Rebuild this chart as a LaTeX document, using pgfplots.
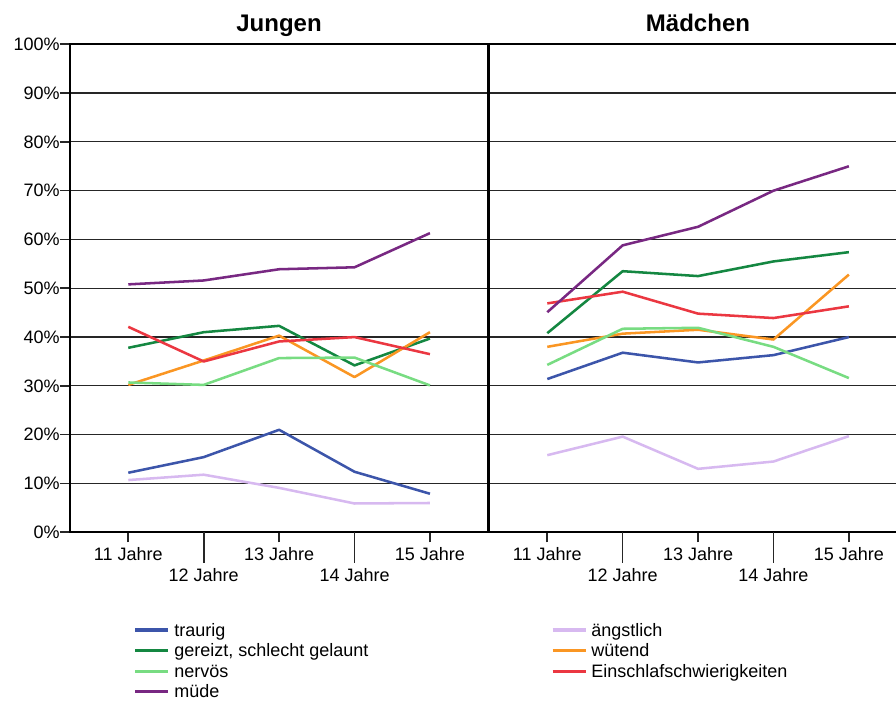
\documentclass[border=0pt]{standalone}
\usepackage{fontspec}
\setmainfont{Liberation Sans}
\usepackage{pgfplots}
\usepackage{pgfplotstable}
\pgfplotsset{compat=1.18}

\definecolor{cTraurig}{RGB}{60,85,170}
\definecolor{cAngst}{RGB}{215,185,240}
\definecolor{cGereizt}{RGB}{20,135,65}
\definecolor{cWuetend}{RGB}{250,150,35}
\definecolor{cNervoes}{RGB}{120,220,130}
\definecolor{cSchlaf}{RGB}{235,55,65}
\definecolor{cMuede}{RGB}{120,40,130}

% Jungen
\pgfplotstableread{
age traurig angst gereizt wuetend nervoes schlaf muede
11  12.2    10.7  37.8    30.2    30.7    42.1   50.8
12  15.4    11.8  41.0    35.2    30.2    35.0   51.6
13  21.0     9.1  42.3    40.3    35.7    39.1   53.9
14  12.4     5.9  34.2    31.8    35.8    40.0   54.3
15   7.9     6.0  39.7    41.0    30.1    36.5   61.3
}\jungen

% Maedchen
\pgfplotstableread{
age traurig angst gereizt wuetend nervoes schlaf muede
11  31.4    15.8  40.8    38.0    34.3    46.9   45.1
12  36.8    19.6  53.5    40.7    41.7    49.3   58.8
13  34.8    13.0  52.5    41.5    41.9    44.8   62.6
14  36.3    14.5  55.5    39.5    38.0    43.9   70.0
15  40.0    19.7  57.4    52.8    31.6    46.3   75.0
}\maedchen

\newcommand{\lcol}[1]{\makebox[282pt][l]{#1}}

\pgfplotsset{
  panel/.style={
    scale only axis, height=366pt,
    ymin=0, ymax=100, xmin=10.227,
    ytick={0,10,...,100},
    ymajorgrids, grid style={black!85, line width=0.9pt},
    xtick={11,13,15}, xticklabels={11 Jahre,13 Jahre,15 Jahre},
    extra x ticks={12,14}, extra x tick labels={12 Jahre,14 Jahre},
    extra x tick style={major tick length=23pt, xmajorgrids=false,
      xticklabel style={yshift=0pt}},
    tick align=outside, xtick pos=bottom, ytick pos=left,
    major tick length=7.5pt,
    xticklabel style={anchor=base, yshift=-14pt, inner sep=0pt},
    yticklabel style={anchor=east, inner sep=0pt},
    tick label style={font=\fontsize{13.5}{16}\selectfont},
    /pgf/number format/assume math mode=true,
    axis line style={line width=1.8pt},
    every tick/.style={black!85, line width=1.2pt},
    every axis plot/.append style={line width=1.9pt, no markers, line join=round},
  }
}

\begin{document}
\begin{tikzpicture}

\begin{axis}[panel,
  at={(52.5pt,-399.2pt)}, anchor=south west,
  width=313.5pt, xmax=15.77,
  yticklabels={0\%,10\%,20\%,30\%,40\%,50\%,60\%,70\%,80\%,90\%,100\%},
  legend columns=2, legend cell align=left,
  legend style={at={(axis description cs:0.153,-0.1845)}, anchor=north west,
    draw=none, fill=none, inner sep=0pt, outer sep=0pt, row sep=3.9pt,
    font=\fontsize{13.5}{16}\selectfont,
    nodes={inner sep=0.5pt, text height=10pt, text depth=0.5pt},
    /tikz/every odd column/.append style={column sep=2.75pt}},
  legend image code/.code={\draw[#1, line width=2.3pt] (0pt,0pt) -- (24.75pt,0pt);},
]
\addplot[cTraurig] table[x=age, y=traurig] {\jungen};
\addlegendentry{\lcol{traurig}}
\addplot[cAngst] table[x=age, y=angst] {\jungen};
\addlegendentry{ängstlich}
\addplot[cGereizt] table[x=age, y=gereizt] {\jungen};
\addlegendentry{\lcol{gereizt, schlecht gelaunt}}
\addplot[cWuetend] table[x=age, y=wuetend] {\jungen};
\addlegendentry{wütend}
\addplot[cNervoes] table[x=age, y=nervoes] {\jungen};
\addlegendentry{\lcol{nervös}}
\addplot[cSchlaf] table[x=age, y=schlaf] {\jungen};
\addlegendentry{Einschlafschwierigkeiten}
\addplot[cMuede] table[x=age, y=muede] {\jungen};
\addlegendentry{\lcol{müde}}
\end{axis}

\begin{axis}[panel,
  at={(366.75pt,-399.2pt)}, anchor=south west,
  width=305.25pt, xmax=15.625,
  axis x line=box, axis y line=left,
  y axis line style={-}, x axis line style={-},
  yticklabels={}, y tick style={draw=none},
]
\addplot[cTraurig] table[x=age, y=traurig] {\maedchen};
\addplot[cAngst] table[x=age, y=angst] {\maedchen};
\addplot[cGereizt] table[x=age, y=gereizt] {\maedchen};
\addplot[cWuetend] table[x=age, y=wuetend] {\maedchen};
\addplot[cNervoes] table[x=age, y=nervoes] {\maedchen};
\addplot[cSchlaf] table[x=age, y=schlaf] {\maedchen};
\addplot[cMuede] table[x=age, y=muede] {\maedchen};
\end{axis}

\node[font=\bfseries\fontsize{18}{20}\selectfont, anchor=base] at (209.25pt,-23.8pt) {Jungen};
\node[font=\bfseries\fontsize{18}{20}\selectfont, anchor=base] at (523.5pt,-23.8pt) {Mädchen};

\pgfresetboundingbox
\useasboundingbox (0,0) rectangle (672pt,-525.75pt);
\end{tikzpicture}
\end{document}
